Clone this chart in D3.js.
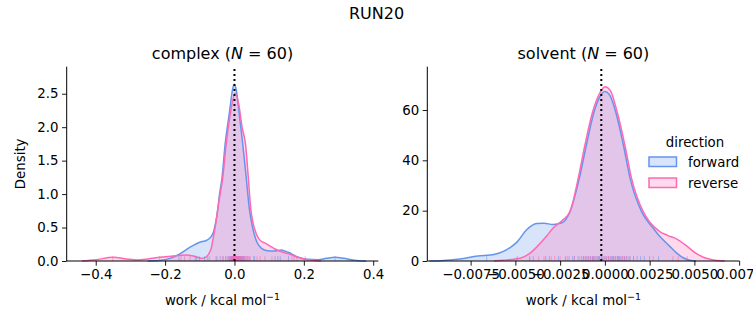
<!DOCTYPE html>
<html><head><meta charset="utf-8">
<script src="https://cdn.jsdelivr.net/npm/d3@7"></script>
<style>
body{margin:0;background:#fff;}
svg{display:block;font-family:"DejaVu Sans",sans-serif;}
</style></head>
<body><svg id="c" width="753" height="325"></svg>
<script>
// ---- data ----
const directions = ["forward", "reverse"];
const colors = ["#6495ED", "#FF69B4"];

// complex KDE curves: [work, density]
const complexForward = [[-0.25,0],[-0.21,0.01],[-0.18,0.05],[-0.16,0.1],[-0.13,0.2],[-0.10,0.28],[-0.08,0.31],[-0.068,0.36],[-0.06,0.44],[-0.054,0.58],[-0.048,0.78],[-0.043,1.0],[-0.036,1.24],[-0.027,1.74],[-0.014,2.24],[-0.006,2.55],[-0.001,2.64],[0.005,2.56],[0.013,2.24],[0.024,1.74],[0.034,1.24],[0.043,0.78],[0.050,0.56],[0.057,0.4],[0.065,0.28],[0.078,0.19],[0.095,0.155],[0.115,0.15],[0.135,0.165],[0.155,0.13],[0.18,0.065],[0.21,0.025],[0.24,0.02],[0.265,0.04],[0.29,0.055],[0.315,0.04],[0.345,0.012],[0.38,0]];
const complexReverse = [[-0.44,0],[-0.40,0.02],[-0.35,0.055],[-0.31,0.03],[-0.28,0.015],[-0.25,0.03],[-0.215,0.055],[-0.17,0.08],[-0.14,0.09],[-0.115,0.07],[-0.095,0.04],[-0.085,0.05],[-0.075,0.1],[-0.067,0.19],[-0.06,0.38],[-0.054,0.56],[-0.044,0.92],[-0.034,1.24],[-0.024,1.74],[-0.012,2.2],[0.002,2.51],[0.012,2.35],[0.022,2.0],[0.032,1.74],[0.040,1.24],[0.047,0.78],[0.054,0.56],[0.062,0.42],[0.072,0.32],[0.087,0.27],[0.10,0.23],[0.117,0.18],[0.14,0.13],[0.166,0.09],[0.185,0.05],[0.204,0.025],[0.23,0.008],[0.25,0]];

// solvent KDE curves
const solventForward = [[-0.0098,0],[-0.0092,0.1],[-0.0081,0.8],[-0.0071,2.0],[-0.0062,2.6],[-0.0057,3.7],[-0.0052,5.8],[-0.0049,7.6],[-0.0044,12.2],[-0.0038,14.9],[-0.0034,15.0],[-0.0029,14.5],[-0.0024,15.2],[-0.00195,19.6],[-0.00143,32.8],[-0.00104,45.9],[-0.00061,59.1],[-0.0003,65],[0,67.3],[0.0003,65.5],[0.00061,59.1],[0.00104,45.9],[0.00141,32.8],[0.00205,19.6],[0.0027,13],[0.0031,9.5],[0.0036,6],[0.004,3.2],[0.0044,1.2],[0.0048,0.2],[0.0051,0]];
const solventReverse = [[-0.0062,0],[-0.0057,0.3],[-0.0047,1.2],[-0.0042,3.0],[-0.0038,5.6],[-0.0033,9.5],[-0.0029,13],[-0.0024,16],[-0.00195,19.6],[-0.00149,32.8],[-0.00112,45.9],[-0.00069,59.1],[-0.0003,66.5],[0,69.2],[0.0003,67.8],[0.00069,59.1],[0.00112,45.9],[0.00149,32.8],[0.00214,19.6],[0.0025,15.5],[0.00307,11.7],[0.0035,10.2],[0.004,8.8],[0.0046,5.8],[0.0051,3.0],[0.0055,1.5],[0.006,0.5],[0.0067,0]];

// rug samples (work values)
const complexForwardRug = [-0.16,-0.113,-0.109,-0.101,-0.086,-0.073,-0.053,-0.041,-0.032,-0.025,-0.019,-0.015,-0.012,-0.010,-0.008,-0.007,-0.006,-0.005,-0.004,-0.0035,-0.003,-0.0025,-0.002,-0.0015,-0.001,-0.0005,0,0.0005,0.001,0.0015,0.002,0.0025,0.003,0.0035,0.004,0.005,0.006,0.007,0.008,0.009,0.010,0.011,0.012,0.013,0.015,0.017,0.019,0.021,0.023,0.026,0.029,0.033,0.038,0.044,0.058,0.117,0.125,0.132,0.156,0.29];
const complexReverseRug = [-0.351,-0.216,-0.154,-0.144,-0.128,-0.078,-0.05,-0.035,-0.025,-0.018,-0.014,-0.011,-0.009,-0.007,-0.006,-0.005,-0.004,-0.003,-0.0025,-0.002,-0.0015,-0.001,0,0.001,0.0015,0.002,0.0025,0.003,0.004,0.005,0.006,0.007,0.008,0.009,0.010,0.011,0.012,0.013,0.014,0.015,0.016,0.018,0.020,0.021,0.023,0.026,0.028,0.03,0.035,0.04,0.045,0.055,0.065,0.074,0.088,0.108,0.166,0.172,0.18,0.204];
const solventForwardRug = [-0.0066,-0.0049,-0.0042,-0.0040,-0.0033,-0.0031,-0.0026,-0.0022,-0.0020,-0.0018,-0.0017,-0.0015,-0.0013,-0.0012,-0.0011,-0.0010,-0.0009,-0.0008,-0.0007,-0.00065,-0.0006,-0.0005,-0.0004,-0.00035,-0.0003,-0.0002,-0.0001,0,0.0001,0.0002,0.0003,0.0004,0.00045,0.0005,0.0006,0.0007,0.00075,0.0008,0.0009,0.0010,0.0011,0.0012,0.0013,0.0014,0.0016,0.0018,0.0020,0.0022,0.0025,0.0030];
const solventReverseRug = [-0.0042,-0.0037,-0.0034,-0.0030,-0.0028,-0.0025,-0.0021,-0.0017,-0.0014,-0.0012,-0.0011,-0.0010,-0.0009,-0.0008,-0.0007,-0.0006,-0.0005,-0.0004,-0.0003,-0.0002,-0.0001,0,0.0001,0.0002,0.0003,0.0004,0.0005,0.0006,0.0007,0.0008,0.0009,0.0010,0.0011,0.0012,0.0014,0.0016,0.0027,0.0038,0.0041,0.0046];

const complexXTicks = [-0.4,-0.2,0.0,0.2,0.4];
const complexXLabels = ["\u22120.4","\u22120.2","0.0","0.2","0.4"];
const complexYTicks = [0,0.5,1.0,1.5,2.0,2.5];
const complexYLabels = ["0.0","0.5","1.0","1.5","2.0","2.5"];
const solventXTicks = [-0.0075,-0.005,-0.0025,0,0.0025,0.005,0.0075];
const solventXLabels = ["\u22120.0075","\u22120.0050","\u22120.0025","0.0000","0.0025","0.0050","0.0075"];
const solventYTicks = [0,20,40,60];
const solventYLabels = ["0","20","40","60"];

const panels = [
  {name:"complex", n:60, curves:[complexForward, complexReverse], rugs:[complexForwardRug, complexReverseRug],
   xDomain:[-0.4837,0.4147], yDomain:[0,2.904], xRange:[66.7,378.3], vline:0,
   xTicks:complexXTicks, xLabels:complexXLabels, yTicks:complexYTicks, yLabels:complexYLabels, ylabel:"Density"},
  {name:"solvent", n:60, curves:[solventForward, solventReverse], rugs:[solventForwardRug, solventReverseRug],
   xDomain:[-0.00992,0.00752], yDomain:[0,77.2], xRange:[427.3,739.5], vline:-0.0002,
   xTicks:solventXTicks, xLabels:solventXLabels, yTicks:solventYTicks, yLabels:solventYLabels, ylabel:null}
];

const svg = d3.select("#c");
const yRange = [261, 66.7];
const FS = 13.33;

svg.append("text").attr("x",376.5).attr("y",18.5).attr("text-anchor","middle")
  .attr("font-size",16).text("RUN20");

panels.forEach(p => {
  const x = d3.scaleLinear().domain(p.xDomain).range(p.xRange);
  const y = d3.scaleLinear().domain(p.yDomain).range(yRange);
  const g = svg.append("g");

  // KDE fills + lines
  p.curves.forEach((c, i) => {
    const area = d3.area().x(d => x(d[0])).y0(y(0)).y1(d => y(d[1])).curve(d3.curveMonotoneX);
    g.append("path").attr("d", area(c)).attr("fill", colors[i]).attr("fill-opacity",0.25).attr("stroke","none");
  });
  p.curves.forEach((c, i) => {
    const line = d3.line().x(d => x(d[0])).y(d => y(d[1])).curve(d3.curveMonotoneX);
    g.append("path").attr("d", line(c)).attr("fill","none").attr("stroke", colors[i]).attr("stroke-width",1.5);
  });

  // rug
  p.rugs.forEach((r, i) => {
    g.selectAll(null).data(r).enter().append("line")
      .attr("x1", d => x(d)).attr("x2", d => x(d))
      .attr("y1", y(0)).attr("y2", y(0) - 0.025*(yRange[0]-yRange[1]))
      .attr("stroke", colors[i]).attr("stroke-width",1).attr("stroke-opacity",0.55);
  });

  // dotted line
  g.append("line").attr("x1",x(p.vline)).attr("x2",x(p.vline)).attr("y1",yRange[0]).attr("y2",yRange[1])
    .attr("stroke","#000").attr("stroke-width",2).attr("stroke-dasharray","2,3");

  // axes
  const xAxis = d3.axisBottom(x).tickValues(p.xTicks).tickFormat((d,i) => p.xLabels[i]).tickSize(4.67).tickPadding(3.5);
  const xa = g.append("g").attr("transform",`translate(0,${yRange[0]})`).call(xAxis);
  const yAxis = d3.axisLeft(y).tickValues(p.yTicks).tickFormat((d,i) => p.yLabels[i]).tickSize(4.67).tickPadding(3.5);
  const ya = g.append("g").attr("transform",`translate(${p.xRange[0]},0)`).call(yAxis);
  [xa, ya].forEach(a => {
    a.select(".domain").attr("stroke","#000").attr("stroke-width",1).attr("d", null);
    a.selectAll(".tick line").attr("stroke","#000").attr("stroke-width",0.9);
    a.selectAll(".tick text").attr("font-size",FS).attr("font-family","DejaVu Sans").attr("fill","#000");
  });
  xa.select(".domain").remove();
  ya.select(".domain").remove();
  g.append("line").attr("x1",p.xRange[0]).attr("x2",p.xRange[1]).attr("y1",yRange[0]).attr("y2",yRange[0]).attr("stroke","#000").attr("stroke-width",1);
  g.append("line").attr("x1",p.xRange[0]).attr("x2",p.xRange[0]).attr("y1",yRange[0]).attr("y2",yRange[1]).attr("stroke","#000").attr("stroke-width",1);

  // title
  const cx = (p.xRange[0]+p.xRange[1])/2;
  const t = svg.append("text").attr("x",cx).attr("y",58.7).attr("text-anchor","middle").attr("font-size",16);
  t.append("tspan").text(p.name + " (");
  t.append("tspan").attr("font-style","italic").text("N");
  t.append("tspan").text(" = " + p.n + ")");

  // x label
  const xl = svg.append("text").attr("x",cx).attr("y",305).attr("text-anchor","middle").attr("font-size",FS);
  xl.append("tspan").text("work / kcal mol");
  xl.append("tspan").attr("font-size",9.5).attr("dy",-5.5).text("\u22121");

  if (p.ylabel) {
    svg.append("text").attr("transform",`translate(25,${(yRange[0]+yRange[1])/2}) rotate(-90)`)
      .attr("text-anchor","middle").attr("font-size",FS).text(p.ylabel);
  }
});

// legend
const lg = svg.append("g");
lg.append("text").attr("x",695).attr("y",147).attr("text-anchor","middle").attr("font-size",FS).text("direction");
directions.forEach((d, i) => {
  const yy = 157 + i*21;
  lg.append("rect").attr("x",649).attr("y",yy).attr("width",27.5).attr("height",9.5)
    .attr("fill",colors[i]).attr("fill-opacity",0.25).attr("stroke",colors[i]).attr("stroke-width",1.5);
  lg.append("text").attr("x",688).attr("y",yy+9.5).attr("font-size",FS).text(d);
});
</script></body></html>
